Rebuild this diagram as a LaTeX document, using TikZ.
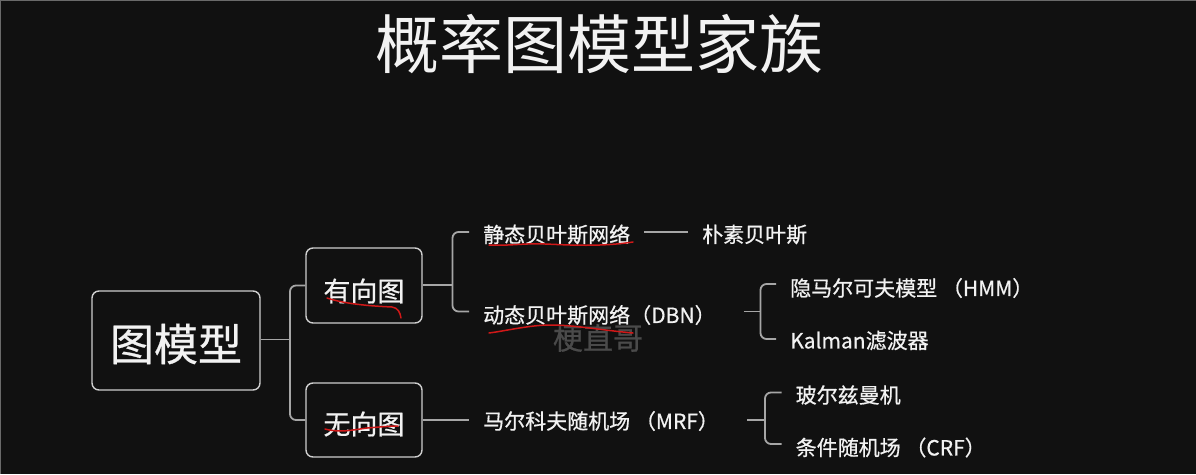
\documentclass[tikz,border=0pt]{standalone}
\usepackage{fontspec}
\setmainfont{Noto Sans CJK SC}
\newfontfamily\cjk{Noto Sans CJK SC}
\newfontfamily\cjkm[FakeBold=0.6]{Noto Sans CJK SC}
\definecolor{bg}{HTML}{111111}
\definecolor{edge}{HTML}{6A6A6A}
\definecolor{boxline}{HTML}{CFCFCF}
\definecolor{connline}{HTML}{A6A6A6}
\definecolor{txt}{HTML}{F2F2F2}
\definecolor{mark}{HTML}{D01818}
\definecolor{wm}{HTML}{4A4A4A}
\tikzset{
  gbox/.style={draw=boxline, line width=1.4pt, rounded corners=7pt, inner sep=0pt},
  boxlabel/.style={text=txt, inner sep=0pt},
  leaf/.style={anchor=west, text=txt, font=\cjkm\fontsize{21}{21}\selectfont, inner xsep=14pt, inner ysep=0pt},
  conn/.style={draw=connline, line width=1.8pt, rounded corners=6pt},
  redmark/.style={draw=mark, line width=1.5pt, line cap=round, line join=round},
}
\begin{document}
\begin{tikzpicture}[x=1pt,y=-1pt]
\useasboundingbox (0,0) rectangle (1196,474);
\fill[bg] (0,0) rectangle (1196,474);
\draw[edge, line width=1.5pt] (0,474) -- (0,0) -- (1196,0);

% title
\node[text=txt, font=\cjk\fontsize{64}{64}\selectfont, inner sep=0pt] (title) at (599,44) {概率图模型家族};

% boxes
\node[gbox, minimum width=168pt, minimum height=99pt] (root) at (176,340.5) {};
\node[gbox, minimum width=116pt, minimum height=75pt] (dir) at (364,285.5) {};
\node[gbox, minimum width=116pt, minimum height=74pt] (undir) at (364,420) {};
\node[boxlabel, font=\cjkm\fontsize{44}{44}\selectfont] (rootl) at (176,344) {图模型};
\node[boxlabel, font=\cjkm\fontsize{27}{27}\selectfont] (dirl) at (364,291) {有向图};
\node[boxlabel, font=\cjkm\fontsize{27}{27}\selectfont] (undirl) at (364,424) {无向图};

% leaves
\node[leaf] (s1) at (469,234.5) {静态贝叶斯网络};
\node[leaf] (nb) at (688,234.5) {朴素贝叶斯};
\node[leaf] (s2) at (469,315) {动态贝叶斯网络（DBN）};
\node[leaf] (hmm) at (776,288) {隐马尔可夫模型 （HMM）};
\node[leaf] (kal) at (776,340.5) {Kalman滤波器};
\node[leaf] (mrf) at (469,421) {马尔科夫随机场 （MRF）};
\node[leaf] (bm) at (781.5,395) {玻尔兹曼机};
\node[leaf] (crf) at (781.5,447.5) {条件随机场 （CRF）};

% junctions
\coordinate (j1) at (290,339.5);
\coordinate (j2) at (452.5,285);
\coordinate (j3) at (760.5,311.5);
\coordinate (j4) at (765,420);

% connectors
\draw[conn] (root.east |- j1) -- (j1);
\draw[conn] (dir.west) -| (j1) |- (undir.west);
\draw[conn] (dir.east |- j2) -- (j2);
\draw[conn] ([yshift=2.5pt]s1.west) -| (j2) |- ([yshift=3.5pt]s2.west);
\draw[conn] ([yshift=2.5pt]s1.east) -- ([yshift=2.5pt]nb.west);
\draw[conn] ([xshift=14pt]s2.east |- j3) -- (j3);
\draw[conn] ([yshift=4pt]hmm.west) -| (j3) |- ([yshift=1.5pt]kal.west);
\draw[conn] (undir.east |- j4) -- ([yshift=1pt]mrf.west);
\draw[conn] ([xshift=14pt]mrf.east |- j4) -- (j4);
\draw[conn] ([yshift=2.5pt]bm.west) -| (j4) |- ([yshift=3.5pt]crf.west);

% watermark
\node[text=wm, font=\cjkm\fontsize{30}{30}\selectfont, inner sep=0pt] (wmark) at (598,338) {梗直哥};

% hand-drawn marks
\draw[redmark] (327,298) .. controls (345,304) and (370,306) .. (392,307) .. controls (398,308) and (400,312) .. (401,318);
\draw[redmark] (325,429) .. controls (340,433) and (352,430) .. (367,428) .. controls (380,427) and (390,426) .. (398,426);
\draw[redmark] (489,245) .. controls (510,246) and (525,243) .. (545,244) .. controls (570,245) and (600,247) .. (633,242);
\draw[redmark] (489,333) .. controls (505,331) and (530,325) .. (550,325) .. controls (575,325) and (600,330) .. (633,333);
\end{tikzpicture}
\end{document}
